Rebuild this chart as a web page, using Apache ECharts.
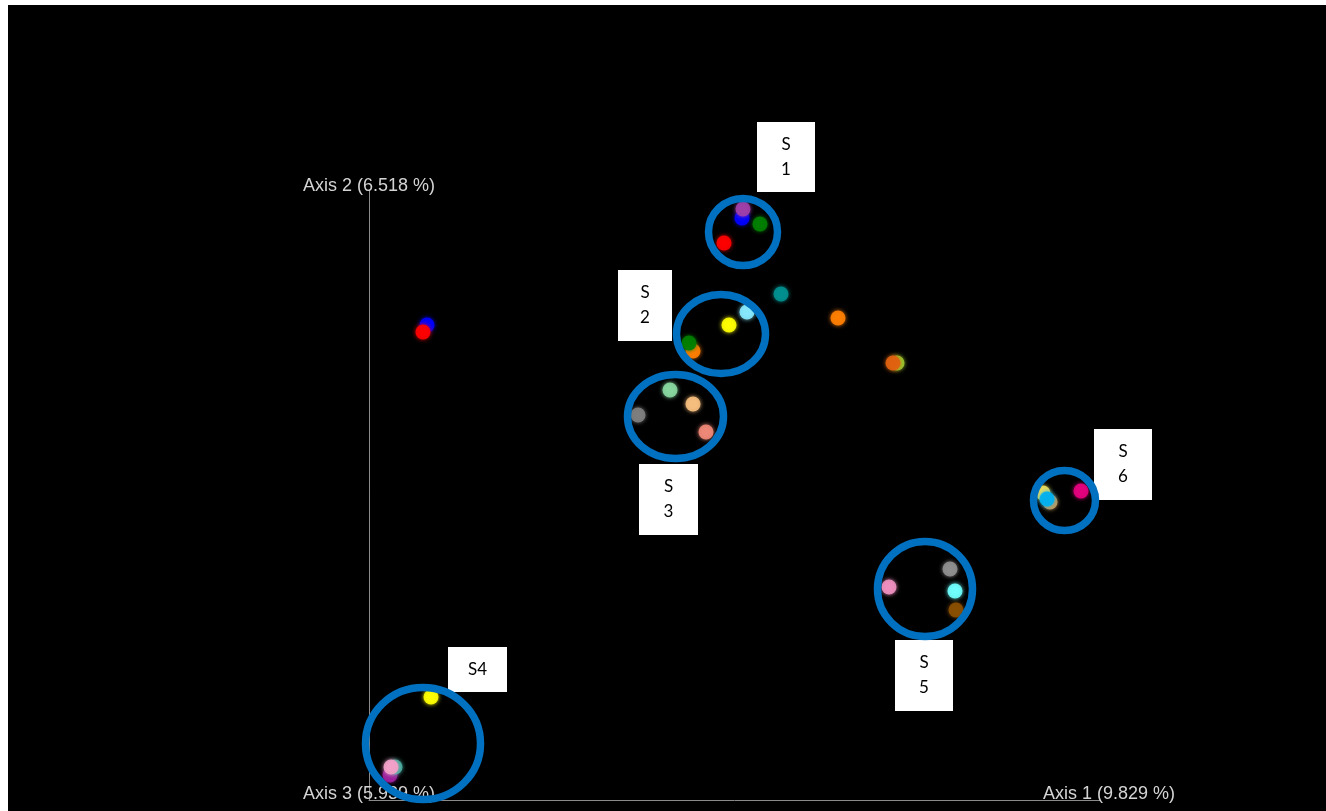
<!DOCTYPE html>
<html>
<head>
<meta charset="utf-8">
<title>PCoA</title>
<script src="https://cdn.jsdelivr.net/npm/echarts@6/dist/echarts.min.js"></script>
<style>
  html, body { margin: 0; padding: 0; background: #fff; }
  #chart { width: 1326px; height: 811px; }
</style>
</head>
<body>
<div id="chart"></div>
<script>
// Sample ordination scores (Axis 1, Axis 2), drawn back to front
const sampleIds = [
  'p01','p02','p03','p04','p05','p06','p07','p08','p09','p10',
  'p11','p12','p13','p14','p15','p16','p17','p18','p19','p20',
  'p21','p22','p23','p24','p25','p26','p27','p28','p29','p30'
];
const axis1 = [
  373, 374, 391, 355, 412, 469, 528, 524, 378, 360,
  324, 320, 301, 324, 269, 337, 58, 54, 674, 681,
  678, 712, 581, 520, 586, 587, 62, 21, 26, 22
];
const axis2 = [
  582, 591, 576, 557, 506, 482, 437, 437, 488, 475,
  449, 457, 410, 396, 385, 368, 475, 468, 307, 298,
  301, 309, 231, 213, 209, 190, 103, 25, 33, 33
];
const sampleColors = [
  '#0000ff','#a040a8','#008000','#ff0000','#009090','#ff7f00','#9acd32','#e0600f','#88eaff','#ffff00',
  '#ff7f00','#008000','#88d8a0','#f8c080','#808080','#f08878','#0000ff','#ff0000','#f0e060','#c8a060',
  '#00b0f0','#e6007e','#909090','#f090c0','#70ffff','#8b5000','#ffff00','#a020a0','#40b0a0','#f4a0c8'
];

// Axis captions
const axisTitles = ['Axis 1 (9.829 %)', 'Axis 2 (6.518 %)', 'Axis 3 (5.939 %)'];

// Sample groups marked on the plot
const groupNames = ['S\n1', 'S\n2', 'S\n3', 'S4', 'S\n5', 'S\n6'];

const chart = echarts.init(document.getElementById('chart'));

// Outline rings and caption boxes for the groups (page pixels)
const rings = [
  { cx: 743, cy: 232, rx: 34.5, ry: 33.5 },
  { cx: 721, cy: 334, rx: 44.5, ry: 39.5 },
  { cx: 675.5, cy: 416.5, rx: 48, ry: 42 },
  { cx: 423, cy: 743.5, rx: 57.5, ry: 56 },
  { cx: 925, cy: 589, rx: 47.5, ry: 47.5 },
  { cx: 1064.5, cy: 500.5, rx: 31, ry: 30 }
];
const boxes = [
  { x: 757, y: 122, w: 58, h: 70 },
  { x: 618, y: 270, w: 54, h: 71 },
  { x: 639, y: 464, w: 59, h: 71 },
  { x: 448, y: 647, w: 59, h: 45 },
  { x: 895, y: 640, w: 58, h: 71 },
  { x: 1094, y: 429, w: 58, h: 71 }
];

const axisTextStyle = {
  fill: '#d4d4d4',
  font: '18px "Liberation Sans", Arial, sans-serif'
};

const graphics = [];
// axis captions
graphics.push({ type: 'text', left: 303, top: 177, z: 50, style: Object.assign({ text: axisTitles[1] }, axisTextStyle) });
graphics.push({ type: 'text', left: 303, top: 785, z: 50, style: Object.assign({ text: axisTitles[2] }, axisTextStyle) });
graphics.push({ type: 'text', left: 1043, top: 785, z: 50, style: Object.assign({ text: axisTitles[0] }, axisTextStyle) });

rings.forEach(function (r) {
  graphics.push({
    type: 'ellipse', z: 60,
    shape: { cx: r.cx, cy: r.cy, rx: r.rx, ry: r.ry },
    style: { fill: null, stroke: '#0070c0', lineWidth: 7.5 }
  });
});
boxes.forEach(function (b, i) {
  graphics.push({
    type: 'group', z: 70, x: b.x, y: b.y,
    children: [
      { type: 'rect', shape: { x: 0, y: 0, width: b.w, height: b.h }, style: { fill: '#ffffff' } },
      {
        type: 'text', x: b.w / 2, y: b.h / 2,
        style: {
          text: groupNames[i], fill: '#000', align: 'center', verticalAlign: 'middle',
          font: '17px Lato, "Open Sans", sans-serif', lineHeight: 25
        }
      }
    ]
  });
});
// white page margins
graphics.push({ type: 'rect', z: 100, shape: { x: 0, y: 0, width: 1326, height: 5 }, style: { fill: '#fff' } });
graphics.push({ type: 'rect', z: 100, shape: { x: 0, y: 0, width: 8, height: 811 }, style: { fill: '#fff' } });

const axisLine = { show: true, lineStyle: { color: '#8a8a8a', width: 1 } };

chart.setOption({
  backgroundColor: '#000',
  animation: false,
  grid: { left: 369, right: 226, top: 190, bottom: 11 },
  xAxis: {
    type: 'value', min: 0, max: 731,
    axisLine: axisLine, axisTick: { show: false }, axisLabel: { show: false }, splitLine: { show: false }
  },
  yAxis: {
    type: 'value', min: 0, max: 610,
    axisLine: axisLine, axisTick: { show: false }, axisLabel: { show: false }, splitLine: { show: false }
  },
  series: [{
    type: 'scatter',
    symbolSize: 15,
    data: sampleIds.map(function (id, i) {
      return {
        name: id,
        value: [axis1[i], axis2[i]],
        itemStyle: { color: sampleColors[i], shadowColor: sampleColors[i] }
      };
    }),
    itemStyle: {
      opacity: 0.9,
      shadowBlur: 4
    }
  }],
  graphic: graphics
});
</script>
</body>
</html>
